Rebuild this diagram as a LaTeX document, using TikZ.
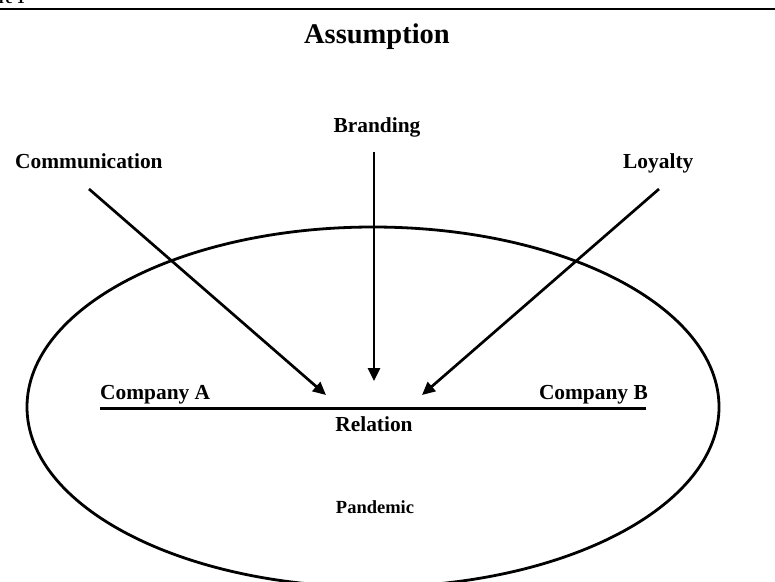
\documentclass[tikz,border=0pt]{standalone}
\usepackage{fontspec}
\setmainfont{Liberation Serif}
\usetikzlibrary{arrows.meta,shapes.geometric}
\begin{document}
\begin{tikzpicture}[x=1pt,y=-1pt,
  lbl/.style={inner sep=0pt,font=\fontsize{21.4}{24}\selectfont\bfseries},
  conn/.style={line width=2.7pt,-{Triangle[length=13pt,width=12pt]}},
  bar/.style={line width=3pt}]
\useasboundingbox (0,0) rectangle (775,581);
\clip (0,0) rectangle (775,581);

% header rule and caption
\node[inner sep=0pt,anchor=base east,font=\fontsize{16}{18}\selectfont\bfseries] (fig) at (25,3) {Figure 1};
\coordinate (hl) at (0,9);
\coordinate (hr) at (775,9);
\draw[line width=2pt] (hl) -- (hr);

\node[inner sep=0pt,anchor=base,font=\fontsize{28.5}{32}\selectfont\bfseries] (title) at (377,43) {Assumption};

% pandemic context
\node[draw,line width=2.8pt,ellipse,minimum width=692pt,minimum height=360pt,inner sep=0pt] (env) at (373,407) {};
\node[inner sep=0pt,anchor=base,font=\fontsize{18.5}{21}\selectfont\bfseries] (pand) at (375,513) {Pandemic};

% relation between the companies
\coordinate (ra) at (100,408);
\coordinate (rb) at (646,408);
\draw[bar] (ra) -- (rb);
\node[lbl,anchor=base west] (ca) at (100,399) {Company A};
\node[lbl,anchor=base east] (cb) at (648,399) {Company B};
\node[lbl,anchor=base] (rel) at (374,431) {Relation};

% influencing factors
\node[lbl,anchor=base west] (comm) at (15,168) {Communication};
\node[lbl,anchor=base] (brand) at (377,132) {Branding};
\node[lbl,anchor=base west] (loy) at (623,168) {Loyalty};

\coordinate (c1) at (89,189);
\coordinate (c2) at (374,152);
\coordinate (c3) at (659,189);
\coordinate (t1) at (326,395);
\coordinate (t2) at (374,381);
\coordinate (t3) at (422,395);
\draw[conn] (c1) -- (t1);
\draw[conn] (c2) -- (t2);
\draw[conn] (c3) -- (t3);
\end{tikzpicture}
\end{document}
